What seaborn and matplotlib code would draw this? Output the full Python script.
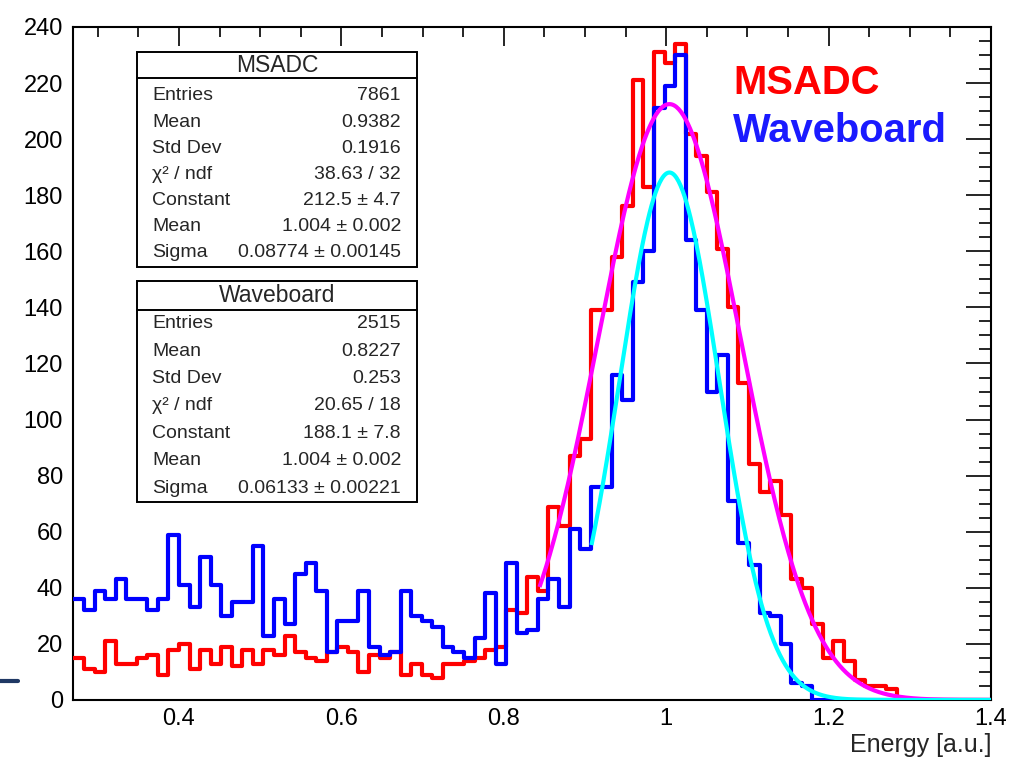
import numpy as np
import pandas as pd
import matplotlib.pyplot as plt
import seaborn as sns
from matplotlib.patches import Rectangle
from matplotlib.lines import Line2D
from matplotlib.ticker import MultipleLocator, FuncFormatter

# --- data ---
x_lo, bin_w, n_bins = 0.27, 0.013, 87
edges = list(np.round(x_lo + bin_w * np.arange(n_bins + 1), 4))
centers = [0.5 * (a + b) for a, b in zip(edges[:-1], edges[1:])]

msadc_counts = [15, 11, 10, 21, 13, 13, 15, 16, 9, 18,
                20, 11, 18, 13, 19, 12, 18, 13, 18, 16,
                23, 17, 15, 14, 17, 19, 17, 10, 16, 15,
                17, 9, 13, 9, 8, 13, 13, 14, 15, 18,
                19, 32, 31, 44, 39, 69, 62, 87, 93, 139,
                139, 158, 176, 221, 183, 231, 227, 234, 202, 194,
                181, 161, 140, 113, 84, 74, 78, 66, 43, 40,
                27, 15, 21, 14, 7, 5, 5, 4,
                0, 0, 0, 0, 0, 0, 0, 0, 0]
wave_counts = [36, 32, 39, 36, 43, 36, 36, 32, 36, 59,
               41, 33, 51, 41, 30, 35, 35, 55, 23, 36,
               27, 45, 49, 39, 17, 28, 28, 39, 19, 16,
               17, 39, 30, 28, 26, 19, 17, 15, 22, 38,
               13, 49, 24, 25, 36, 43, 33, 61, 54, 76,
               76, 116, 107, 149, 160, 211, 219, 230, 164, 139,
               110, 123, 71, 56, 48, 31, 30, 20, 6, 5,
               0, 0, 0, 0, 0, 0, 0, 0, 0, 0, 0, 0, 0, 0, 0, 0, 0]

# gaussian fit results (Constant, Mean, Sigma) and fit ranges
msadc_fit = (212.5, 1.004, 0.08774)
wave_fit = (188.1, 1.004, 0.06133)
msadc_range = (0.844, 1.4)
wave_range = (0.908, 1.4)

msadc_stats = [("Entries", "7861"), ("Mean", "0.9382"), ("Std Dev", "0.1916"),
               ("χ² / ndf", "38.63 / 32"), ("Constant", "212.5 ± 4.7"),
               ("Mean", "1.004 ± 0.002"), ("Sigma", "0.08774 ± 0.00145")]
wave_stats = [("Entries", "2515"), ("Mean", "0.8227"), ("Std Dev", "0.253"),
              ("χ² / ndf", "20.65 / 18"), ("Constant", "188.1 ± 7.8"),
              ("Mean", "1.004 ± 0.002"), ("Sigma", "0.06133 ± 0.00221")]

df = pd.DataFrame({'energy': centers, 'msadc': msadc_counts, 'wave': wave_counts})

# --- style ---
sns.set_style("white")
plt.rcParams['font.family'] = ['Liberation Sans', 'DejaVu Sans']

fig = plt.figure(figsize=(10.1, 7.61), dpi=100)
ax = fig.add_axes([73.4 / 1010, 1 - 700 / 761, 917.6 / 1010, 673 / 761])

sns.histplot(data=df, x='energy', weights='msadc', bins=edges, element='step', fill=False,
             color='#ff0000', linewidth=3, ax=ax, zorder=3)
sns.histplot(data=df, x='energy', weights='wave', bins=edges, element='step', fill=False,
             color='#0000ff', linewidth=3, ax=ax, zorder=4)


def gaus(x, p):
    return p[0] * np.exp(-0.5 * ((x - p[1]) / p[2]) ** 2)


xf = np.linspace(*msadc_range, 400)
ax.plot(xf, gaus(xf, msadc_fit), color='#ff00ff', lw=3, zorder=5, solid_capstyle='butt')
xf = np.linspace(*wave_range, 400)
ax.plot(xf, gaus(xf, wave_fit), color='#00ffff', lw=3, zorder=6, solid_capstyle='butt')

# axes
ax.set_xlim(0.27, 1.4)
ax.set_ylim(0, 240)
ax.xaxis.set_major_locator(MultipleLocator(0.2))
ax.xaxis.set_minor_locator(MultipleLocator(0.05))
ax.yaxis.set_major_locator(MultipleLocator(20))
ax.yaxis.set_minor_locator(MultipleLocator(5))
ax.xaxis.set_major_formatter(FuncFormatter(lambda v, _: f"{v:g}"))
ax.tick_params(which='both', direction='in', top=True, right=True, width=1.2,
               labelsize=17, colors='black')
ax.tick_params(axis='x', which='major', length=14, pad=6)
ax.tick_params(axis='x', which='minor', length=7.5)
ax.tick_params(axis='y', which='major', length=18, pad=7.5)
ax.tick_params(axis='y', which='minor', length=9)
for s in ax.spines.values():
    s.set_linewidth(1.5)
    s.set_color('black')
ax.set_ylabel('')
ax.set_xlabel('Energy [a.u.]', fontsize=18, loc='right', labelpad=2)


# stat boxes
def stat_box(title, rows, top, title_bot, bottom, first_row, last_row):
    left, right = 0.0693, 0.3745
    ax.add_patch(Rectangle((left, bottom), right - left, top - bottom, transform=ax.transAxes,
                           facecolor='white', edgecolor='black', lw=1.4, zorder=10))
    ax.add_line(Line2D([left, right], [title_bot, title_bot], transform=ax.transAxes,
                       color='black', lw=1.4, zorder=11))
    ax.text((left + right) / 2, (top + title_bot) / 2, title, transform=ax.transAxes,
            ha='center', va='center', fontsize=16.5, zorder=12)
    ys = np.linspace(first_row, last_row, len(rows))
    for (name, val), y in zip(rows, ys):
        ax.text(0.0857, y, name, transform=ax.transAxes, ha='left', va='center',
                fontsize=14, zorder=12)
        ax.text(0.357, y, val, transform=ax.transAxes, ha='right', va='center',
                fontsize=14, zorder=12)


stat_box("MSADC", msadc_stats, 0.963, 0.924, 0.643, 0.8975, 0.6642)
stat_box("Waveboard", wave_stats, 0.6226, 0.5795, 0.2942, 0.5587, 0.3150)

# legend text
ax.text(0.7188, 0.9168, "MSADC", transform=ax.transAxes, color='#ff0000',
        fontsize=28.8, fontweight='bold', ha='left', va='center', zorder=12)
ax.text(0.7188, 0.8455, "Waveboard", transform=ax.transAxes, color='#1a1aff',
        fontsize=28.8, fontweight='bold', ha='left', va='center', zorder=12)

# slide decoration at the left edge
fig.add_artist(Line2D([0, 18 / 1010], [1 - 681 / 761] * 2, color='#1f3864', lw=3))

fig.savefig('out.png', dpi=100)
